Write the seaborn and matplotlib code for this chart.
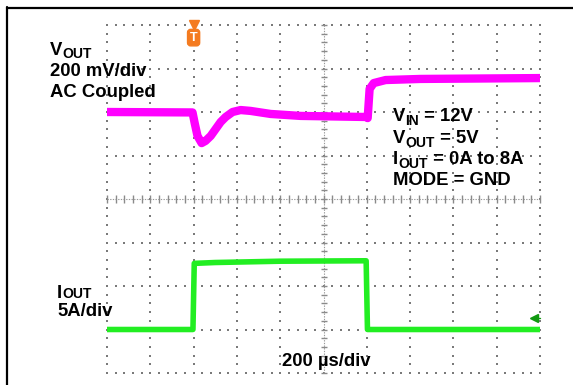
import numpy as np
import pandas as pd
import matplotlib
matplotlib.use("Agg")
import matplotlib.pyplot as plt
import seaborn as sns
from matplotlib.lines import Line2D

# ---- data read from the scope capture ----
# VOUT (AC coupled), deviation in mV versus time in microseconds (trigger at 0)
vout_time_us = [-400, -5, 5, 18, 37, 55, 79, 102, 125, 148, 180, 217, 263, 356, 494, 799, 804, 813, 832, 887, 1048, 1326, 1600]
vout_mv = [0, -2, -51, -110, -143, -133, -110, -78, -46, -23, 0, 9, 5, -9, -18, -23, -28, 106, 133, 147, 152, 154, 156]
# IOUT in A versus time in microseconds
iout_time_us = [-400, -3, 3, 100, 400, 797, 803, 1600]
iout_a = [0, 0, 7.6, 7.7, 7.85, 7.9, 0, 0]

# text pieces: (text, is_subscript)
vout_label = [("V", False), ("OUT", True)]
left_labels = ["200 mV/div", "AC Coupled"]
iout_label = [("I", False), ("OUT", True)]
iout_scale = "5A/div"
cond_labels = [
    [("V", False), ("IN", True), (" = 12V", False)],
    [("V", False), ("OUT", True), (" = 5V", False)],
    [("I", False), ("OUT", True), (" = 0A to 8A", False)],
    [("MODE = GND", False)],
]
time_label = "200 µs/div"

# scope settings
T_DIV = 200.0        # us per division
V_DIV = 200.0        # mV per division
I_DIV = 5.0          # A per division
VOUT_REF = 6.0       # division of VOUT reference level
IOUT_REF = 1.0       # division of IOUT zero level

sns.set_theme(style="white")
plt.rcParams["font.family"] = ["Liberation Sans", "DejaVu Sans"]
plt.rcParams["font.weight"] = "bold"

W, H = 573, 385
fig = plt.figure(figsize=(W / 100, H / 100), dpi=100)
fig.patch.set_facecolor("white")

ax = fig.add_axes([107 / W, (H - 373) / H, (540 - 107) / W, (373 - 25) / H])
x0, x1 = -400, 1600

# ---- graticule (dotted) ----
dot_c = "#7a7a7a"
gx, gy = [], []
for k in range(11):
    if k == 5:
        continue
    xv = x0 + k * T_DIV
    for j in range(41):
        gx.append(xv); gy.append(j / 5)
for k in range(9):
    if k == 4:
        continue
    for j in range(51):
        gx.append(x0 + j * T_DIV / 5); gy.append(k)
ax.scatter(gx, gy, s=2.2, marker="s", color=dot_c, linewidths=0, zorder=1, clip_on=False)

# center crosshair with ticks
xc = x0 + 5 * T_DIV
ax.plot([x0, x1], [4, 4], color="#9a9a9a", lw=0.8, ls=(0, (1.2, 1.2)), zorder=1)
ax.plot([xc, xc], [0, 8], color="#9a9a9a", lw=0.8, ls=(0, (1.2, 1.2)), zorder=1)
tx = [x0 + j * T_DIV / 5 for j in range(51)]
ax.plot(tx, [4] * len(tx), ls="none", marker="|", ms=6, mew=1.0, color="#8a8a8a", zorder=1, clip_on=False)
ty = [j / 5 for j in range(41)]
ax.plot([xc] * len(ty), ty, ls="none", marker="_", ms=5, mew=1.0, color="#8a8a8a", zorder=1, clip_on=False)

# ---- traces ----
vout_df = pd.DataFrame({"t": vout_time_us, "div": VOUT_REF + np.array(vout_mv) / V_DIV})
iout_df = pd.DataFrame({"t": iout_time_us, "div": IOUT_REF + np.array(iout_a) / I_DIV})
sns.lineplot(data=vout_df, x="t", y="div", ax=ax, color="#ff00ff", lw=6.0,
             sort=False, estimator=None, zorder=3, solid_joinstyle="round")
sns.lineplot(data=iout_df, x="t", y="div", ax=ax, color="#22ee22", lw=4.0,
             sort=False, estimator=None, zorder=3)
ax.set_xlim(x0, x1)
ax.set_ylim(0, 8)
ax.set_axis_off()

# trigger marker (orange T)
ax.plot([0], [8.0], marker="v", ms=7, color="#f47b20", mec="#f47b20", clip_on=False, zorder=5)
ax.text(0, 7.71, "T", ha="center", va="center", color="white", fontsize=9, fontweight="bold",
        bbox=dict(boxstyle="round,pad=0.18,rounding_size=0.25", fc="#f47b20", ec="#f47b20"),
        zorder=5, clip_on=False)

# IOUT level arrow (green)
ya = IOUT_REF + (330 - 318) / 43.5
ax.plot([1565, 1600], [ya, ya], color="#119911", lw=1.0, zorder=5, clip_on=False)
ax.plot([1572], [ya], marker="<", ms=6, color="#119911", mec="#119911", zorder=5, clip_on=False)

# ---- text ----
FS, FS_SUB = 13.3, 10.0
renderer = fig.canvas.get_renderer()

def rich(px, py, parts, drop=4):
    x = px
    for s, sub in parts:
        t = fig.text(x / W, 1 - (py + (drop if sub else 0)) / H, s, ha="left",
                     va="baseline", fontsize=FS_SUB if sub else FS, fontweight="bold",
                     color="black")
        bb = t.get_window_extent(renderer)
        x = bb.x1

rich(50, 55, vout_label, drop=3)
rich(50, 76, [(left_labels[0], False)])
rich(50, 97, [(left_labels[1], False)])
rich(57, 298, iout_label, drop=0)
rich(57, 316, [(iout_scale, False)])
for i, parts in enumerate(cond_labels):
    rich(393, [121, 143, 164, 185][i], parts)
rich(282, 366, [(time_label, False)])

# outer frame (left and top)
fig.add_artist(Line2D([6.5 / W, 1], [1 - 7.5 / H, 1 - 7.5 / H], color="black", lw=1.6))
fig.add_artist(Line2D([7 / W, 7 / W], [0, 1 - 6.5 / H], color="black", lw=1.6))

fig.savefig("out.png", dpi=100)
